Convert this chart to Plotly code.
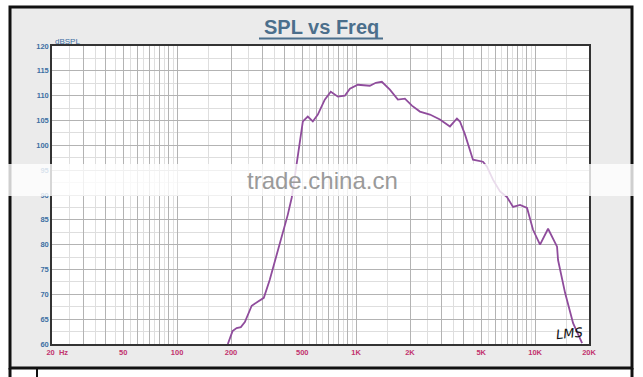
import math
import plotly.graph_objects as go

# ---- data ----
freq_hz = [192, 204, 215, 227, 239, 261, 282, 305, 329, 360, 389, 415, 437, 460, 485,
           504, 537, 573, 611, 668, 722, 791, 865, 923, 1022, 1193, 1289, 1392, 1544,
           1711, 1873, 2050, 2272, 2584, 2939, 3344, 3658, 3802, 4056, 4496, 5114, 5384,
           5815, 6365, 6966, 7526, 8236, 9014, 9737, 10654, 11814, 13260, 13432, 14700,
           16300, 18300]
spl_db = [60.0, 62.6, 63.2, 63.4, 64.4, 67.7, 68.5, 69.3, 72.9, 77.9, 82.0, 86.0, 89.5,
          95.1, 101.1, 104.8, 105.8, 104.8, 106.2, 109.2, 110.8, 109.8, 110.0, 111.4,
          112.2, 112.0, 112.6, 112.8, 111.2, 109.2, 109.4, 108.0, 106.8, 106.2, 105.2,
          103.8, 105.4, 104.8, 102.2, 97.1, 96.7, 95.7, 93.1, 90.7, 89.6, 87.6, 88.0,
          87.4, 83.0, 80.0, 83.2, 79.6, 76.9, 70.3, 64.2, 60.2]

x_label_vals = [20, 50, 100, 200, 500, 1000, 2000, 5000, 10000, 20000]
x_label_text = ["&nbsp;&nbsp;&nbsp;&nbsp;&nbsp;<b>20&nbsp;&nbsp;Hz</b>", "<b>50</b>", "<b>100</b>",
                "<b>200</b>", "<b>500</b>", "<b>1K</b>", "<b>2K</b>", "<b>5K</b>",
                "<b>10K</b>", "<b>20K</b>"]
y_tick_vals = [60, 65, 70, 75, 80, 85, 90, 95, 100, 105, 110, 115, 120]
y_tick_text = ["<b>%d</b>" % v for v in y_tick_vals]

# grid positions (integer multiples per decade, and half steps)
x_grid = []
x_grid_minor = []
for dec in [10, 100, 1000, 10000]:
    for m in range(1, 10):
        v = m * dec
        if 20 <= v <= 20000:
            x_grid.append(v)
        hv = (m + 0.5) * dec
        if 20 < hv < 20000:
            x_grid_minor.append(hv)
x_grid = sorted(set(x_grid))
x_text = [x_label_text[x_label_vals.index(v)] if v in x_label_vals else "" for v in x_grid]
y_minor = [62.5 + 5 * i for i in range(12)]

W, H = 643, 377
L, R, T, B = 52, 54, 46, 33
PW, PH = W - L - R, H - T - B


def px(X):
    return (X - L) / PW


def py(Y):
    return (H - B - Y) / PH


fig = go.Figure()
fig.add_trace(go.Scatter(x=freq_hz, y=spl_db, mode="lines",
                         line=dict(color="#8f4c9c", width=1.8), hoverinfo="skip"))

shapes = [
    dict(type="rect", xref="paper", yref="paper", x0=px(10), x1=px(632), y0=py(368), y1=py(7),
         fillcolor="#ebebeb", line=dict(color="#111111", width=3), layer="below"),
    dict(type="rect", xref="paper", yref="paper", x0=0, x1=1, y0=0, y1=1,
         fillcolor="white", line=dict(width=0), layer="below"),
    dict(type="line", xref="paper", yref="paper", x0=px(10), x1=px(10), y0=py(368), y1=py(377),
         line=dict(color="#111111", width=3)),
    dict(type="line", xref="paper", yref="paper", x0=px(37), x1=px(37), y0=py(369), y1=py(377),
         line=dict(color="#111111", width=2)),
    dict(type="line", xref="paper", yref="paper", x0=px(632), x1=px(632), y0=py(368), y1=py(377),
         line=dict(color="#111111", width=3)),
    dict(type="line", xref="paper", yref="paper", x0=px(259), x1=px(383), y0=py(38.5), y1=py(38.5),
         line=dict(color="#4b6f8c", width=2)),
    dict(type="rect", xref="paper", yref="paper", x0=px(0), x1=px(643), y0=py(196), y1=py(164),
         fillcolor="rgba(255,255,255,0.8)", line=dict(width=0), layer="above"),
]

annotations = [
    dict(text="<b>SPL vs Freq</b>", xref="paper", yref="paper", x=px(321), y=py(27),
         showarrow=False, font=dict(family="Arial", size=20, color="#4b6f8c"),
         xanchor="center", yanchor="middle"),
    dict(text="dBSPL", xref="paper", yref="paper", x=px(53), y=py(41.5), showarrow=False,
         font=dict(family="Arial", size=8, color="#3d6fa3"), xanchor="left", yanchor="middle"),
    dict(text="trade.china.cn", xref="paper", yref="paper", x=px(322), y=py(180), showarrow=False,
         font=dict(family="Arial", size=24, color="#9a9a9a"), xanchor="center", yanchor="middle"),
    dict(text="<i>LMS</i>", xref="paper", yref="paper", x=px(569), y=py(333), showarrow=False,
         font=dict(family="DejaVu Sans", size=13, color="#111111"), xanchor="center",
         yanchor="middle", textangle=-6),
]

fig.update_layout(
    width=W, height=H, margin=dict(l=L, r=R, t=T, b=B, pad=0),
    paper_bgcolor="white", plot_bgcolor="rgba(0,0,0,0)",
    showlegend=False, shapes=shapes, annotations=annotations,
    xaxis=dict(type="log", range=[math.log10(20), math.log10(20000)],
               tickmode="array", tickvals=x_grid, ticktext=x_text,
               showgrid=True, gridcolor="#b3b3b3", gridwidth=1,
               minor=dict(tickmode="array", tickvals=x_grid_minor, showgrid=True,
                          gridcolor="#dedede", gridwidth=1, ticks=""),
               ticks="", showline=True, linecolor="#333333", linewidth=1.5, mirror=True,
               tickfont=dict(family="Arial", size=7.5, color="#c2336e"), zeroline=False,
               fixedrange=True),
    yaxis=dict(range=[60, 120], tickmode="array", tickvals=y_tick_vals, ticktext=y_tick_text,
               showgrid=True, gridcolor="#b3b3b3", gridwidth=1,
               minor=dict(tickmode="array", tickvals=y_minor, showgrid=True,
                          gridcolor="#dedede", gridwidth=1, ticks=""),
               ticks="", showline=True, linecolor="#333333", linewidth=1.5, mirror=True,
               tickfont=dict(family="Arial", size=7.5, color="#3d6fa3"), zeroline=False,
               fixedrange=True),
)

fig.write_html("out.html")
